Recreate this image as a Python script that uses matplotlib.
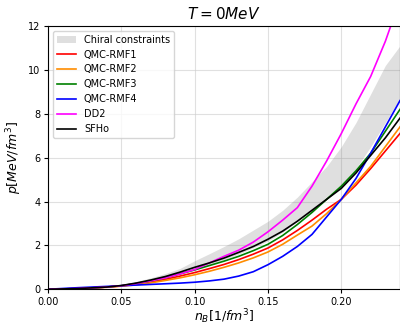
import matplotlib
matplotlib.use("Agg")
import matplotlib.pyplot as plt
import numpy as np

# density grid [1/fm^3]
n_B = [0.0, 0.02, 0.04, 0.05, 0.06, 0.07, 0.08, 0.09, 0.10, 0.11, 0.12, 0.13,
       0.14, 0.15, 0.16, 0.17, 0.18, 0.19, 0.20, 0.21, 0.22, 0.23, 0.24]

qmc_rmf1 = [0, 0.03, 0.10, 0.15, 0.23, 0.33, 0.45, 0.60, 0.76, 0.94, 1.13, 1.35,
            1.60, 1.88, 2.25, 2.68, 3.15, 3.65, 4.10, 4.75, 5.50, 6.30, 7.10]
qmc_rmf2 = [0, 0.03, 0.09, 0.14, 0.20, 0.29, 0.40, 0.52, 0.66, 0.82, 1.00, 1.20,
            1.43, 1.70, 2.05, 2.47, 2.88, 3.45, 4.10, 4.85, 5.60, 6.50, 7.40]
qmc_rmf3 = [0, 0.03, 0.10, 0.16, 0.26, 0.38, 0.52, 0.70, 0.88, 1.08, 1.28, 1.50,
            1.76, 2.05, 2.45, 2.95, 3.50, 4.10, 4.70, 5.40, 6.20, 7.20, 8.20]
qmc_rmf4 = [0, 0.07, 0.13, 0.16, 0.19, 0.22, 0.25, 0.28, 0.32, 0.38, 0.46, 0.60,
            0.80, 1.12, 1.50, 1.95, 2.50, 3.30, 4.10, 5.05, 6.20, 7.40, 8.60]
dd2 = [0, 0.03, 0.10, 0.16, 0.26, 0.38, 0.52, 0.70, 0.90, 1.20, 1.50, 1.78,
       2.15, 2.62, 3.15, 3.72, 4.70, 5.85, 7.10, 8.45, 9.70, 11.30, 13.20]
sfho = [0, 0.03, 0.10, 0.17, 0.28, 0.42, 0.58, 0.78, 1.00, 1.20, 1.42, 1.68,
        1.95, 2.28, 2.65, 3.10, 3.60, 4.10, 4.60, 5.30, 6.10, 6.90, 7.80]

chiral_low = [0, 0.02, 0.10, 0.16, 0.27, 0.40, 0.55, 0.73, 0.92, 1.12, 1.35, 1.60,
              1.90, 2.20, 2.60, 3.10, 3.60, 4.10, 4.65, 5.50, 6.50, 7.60, 8.70]
chiral_high = [0, 0.02, 0.12, 0.22, 0.35, 0.52, 0.72, 0.95, 1.30, 1.62, 1.95, 2.30,
               2.70, 3.10, 3.60, 4.20, 4.90, 5.60, 6.50, 7.60, 8.90, 10.20, 11.10]

series = [
    ("QMC-RMF1", qmc_rmf1, "red"),
    ("QMC-RMF2", qmc_rmf2, "darkorange"),
    ("QMC-RMF3", qmc_rmf3, "green"),
    ("QMC-RMF4", qmc_rmf4, "blue"),
    ("DD2", dd2, "magenta"),
    ("SFHo", sfho, "black"),
]

fig = plt.figure(figsize=(4, 3.25), dpi=100)
ax = fig.add_axes([0.12, 0.11, 0.88, 0.81])

ax.fill_between(n_B, chiral_low, chiral_high, color="gray", alpha=0.25,
                linewidth=0, label="Chiral constraints")
for name, vals, col in series:
    ax.plot(n_B, vals, color=col, lw=1.2, label=name)

ax.set_xlim(0, 0.24)
ax.set_ylim(0, 12)
ax.set_xticks([0.0, 0.05, 0.10, 0.15, 0.20])
ax.set_xticklabels(["0.00", "0.05", "0.10", "0.15", "0.20"])
ax.set_yticks([0, 2, 4, 6, 8, 10, 12])
ax.tick_params(labelsize=7, length=3, pad=2.5)
ax.grid(True, color="#cccccc", alpha=0.6, lw=0.8)
ax.set_axisbelow(True)

ax.set_title(r"$T = 0MeV$", fontsize=11, pad=5)
ax.set_xlabel(r"$n_B[1/fm^3]$", fontsize=9, labelpad=0.5)
ax.set_ylabel(r"$p[MeV/fm^3]$", fontsize=9, labelpad=3)

ax.legend(loc="upper left", fontsize=7, framealpha=0.8)

fig.savefig("out.png", dpi=100)
